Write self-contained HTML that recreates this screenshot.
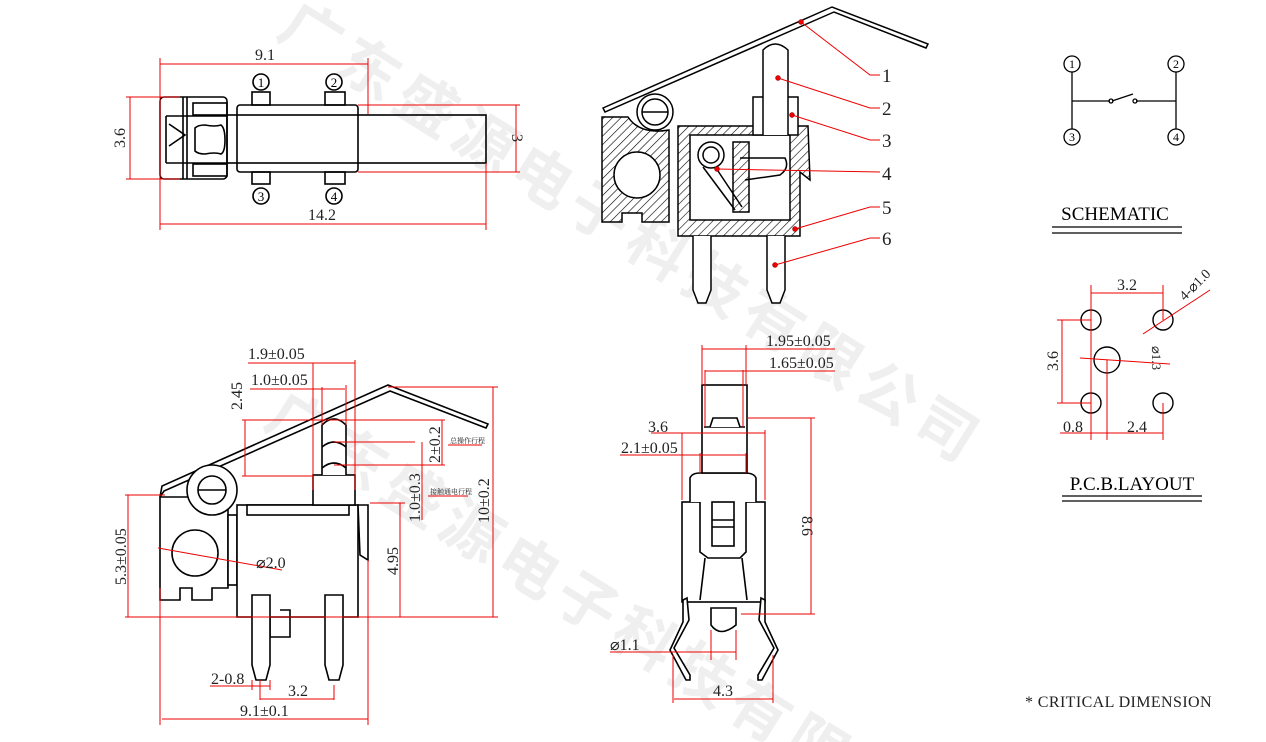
<!DOCTYPE html>
<html><head><meta charset="utf-8"><style>
html,body{margin:0;padding:0;background:#fff;overflow:hidden;width:1266px;height:742px;}
svg{display:block;font-family:"Liberation Serif","Noto Serif CJK SC",serif;}
</style></head><body>
<svg width="1266" height="742" viewBox="0 0 1266 742" xmlns="http://www.w3.org/2000/svg">
<defs>
<pattern id="h" width="6" height="6" patternUnits="userSpaceOnUse" patternTransform="rotate(45)">
<rect width="6" height="6" fill="#fff"/><line x1="0" y1="0" x2="0" y2="6" stroke="#000" stroke-width="1.2"/></pattern>
</defs>
<!-- watermark -->
<g fill="#efefef" font-family="Noto Sans CJK SC, sans-serif" font-weight="bold" font-size="60">
<text transform="translate(275,35) rotate(32)" letter-spacing="8">广东盛源电子科技有限公司</text>
<text transform="translate(262,425) rotate(32)" letter-spacing="8">广东盛源电子科技有限公司</text>
</g>
<g fill="none" stroke="#000" stroke-width="1.6">
<rect x="160" y="97" width="67" height="82" rx="4"/>
<line x1="183" y1="97" x2="183" y2="179"/><line x1="187" y1="97" x2="187" y2="179"/>
<path d="M166 116 L166 163 M166 116 L227 116 M166 163 L227 163"/>
<path d="M169 124 L185 135 L169 146"/>
<path d="M195 128 q3 -3 10 -3 q10 2 16 0 q4 3 4 15 q0 12 -4 14 q-6 -2 -16 0 q-7 0 -10 -3 z"/>
<rect x="193" y="103" width="34" height="12"/><rect x="193" y="164" width="34" height="12"/>
<rect x="237" y="105" width="121" height="67" rx="3"/>
<rect x="227" y="115" width="259" height="48"/>
<rect x="252" y="92" width="18" height="13"/><rect x="325" y="92" width="20" height="13"/>
<rect x="252" y="172" width="18" height="12"/><rect x="325" y="172" width="20" height="12"/>
<circle cx="261" cy="82" r="8"/><circle cx="334" cy="82" r="8"/>
<circle cx="261" cy="196" r="8"/><circle cx="334" cy="196" r="8"/>
</g>
<g font-size="13" text-anchor="middle">
<text x="261" y="87">1</text><text x="334" y="87">2</text><text x="261" y="201">3</text><text x="334" y="201">4</text>
</g>
<g stroke="#e00" stroke-width="1" fill="none">
<line x1="160" y1="58" x2="160" y2="230"/><line x1="368" y1="58" x2="368" y2="114"/>
<line x1="160" y1="64" x2="368" y2="64"/>
<line x1="126" y1="97" x2="180" y2="97"/><line x1="126" y1="179" x2="180" y2="179"/><line x1="130" y1="97" x2="130" y2="179"/>
<line x1="358" y1="105" x2="520" y2="105"/><line x1="358" y1="172" x2="520" y2="172"/><line x1="516" y1="105" x2="516" y2="172"/>
<line x1="486" y1="163" x2="486" y2="230"/><line x1="160" y1="224" x2="486" y2="224"/>
</g>
<g font-size="16" text-anchor="middle" fill="#222">
<text x="265" y="60">9.1</text><text x="322" y="220">14.2</text>
<text transform="translate(125,138) rotate(-90)">3.6</text>
<text transform="translate(512,138) rotate(90)">3</text>
</g>

<!-- TOP MIDDLE SECTION -->
<g stroke="#000" stroke-width="1.5">
<path d="M603 108 L832 7 L928 44 L926 48 L834 12 L605 112 Z" fill="#fff"/>
<path d="M602 117 L628 117 Q640 135 669 130 L669 222 L642 222 L642 213 L622 213 L622 222 L602 222 Z" fill="url(#h)"/>
<circle cx="637" cy="175" r="23" fill="#fff"/>
<circle cx="655" cy="112" r="18" fill="#fff"/><circle cx="655" cy="112" r="13" fill="#fff"/>
<line x1="642" y1="112" x2="668" y2="112"/>
<path d="M678 126 L808 126 L810 180 L800 172 L800 236 L678 236 Z" fill="url(#h)"/>
<rect x="690" y="135" width="100" height="85" fill="#fff"/>
<rect x="753" y="97" width="45" height="38" fill="#fff"/>
<path d="M763 135 L763 50 Q775 38 788 50 L788 135" fill="#fff"/>
<rect x="733" y="142" width="16" height="70" fill="url(#h)"/>
<circle cx="711" cy="155" r="13" fill="none"/><circle cx="711" cy="155" r="8" fill="none"/>
<path d="M703 167 L735 210 M716 168 L742 207 M740 158 L785 158 Q790 168 780 175 L745 180" fill="none"/>
<path d="M693 236 L693 290 L698 303 L706 303 L711 290 L711 236" fill="#fff"/>
<path d="M767 236 L767 290 L772 303 L780 303 L785 290 L785 236" fill="#fff"/>
</g>
<g stroke="#e00" stroke-width="1" fill="none">
<path d="M801 22 L870 75 L880 75"/><path d="M778 78 L870 108 L880 108"/><path d="M792 115 L870 140 L880 140"/>
<path d="M717 169 L880 172"/><path d="M795 229 L870 207 L880 207"/><path d="M775 265 L870 238 L880 238"/>
</g>
<g fill="#e00" stroke="#800" stroke-width=".5">
<circle cx="801" cy="22" r="2.5"/><circle cx="778" cy="78" r="2.5"/><circle cx="792" cy="115" r="2.5"/>
<circle cx="717" cy="169" r="2.5"/><circle cx="795" cy="229" r="2.5"/><circle cx="775" cy="265" r="2.5"/>
</g>
<g font-size="19" fill="#222"><text x="882" y="82">1</text><text x="882" y="115">2</text><text x="882" y="147">3</text><text x="882" y="180">4</text><text x="882" y="214">5</text><text x="882" y="245">6</text></g>

<!-- SCHEMATIC -->
<g stroke="#000" stroke-width="1.3" fill="none">
<circle cx="1072" cy="64" r="8"/><circle cx="1176" cy="64" r="8"/><circle cx="1072" cy="137" r="8"/><circle cx="1176" cy="137" r="8"/>
<path d="M1072 72 L1072 129 M1176 72 L1176 129 M1072 101 L1110 101 M1112 101 L1133 94 M1136 101 L1176 101"/>
<circle cx="1111" cy="101" r="2"/><circle cx="1135" cy="101" r="2"/>
<line x1="1052" y1="227" x2="1182" y2="227"/><line x1="1052" y1="233" x2="1182" y2="233"/>
<line x1="1062" y1="496" x2="1202" y2="496"/><line x1="1062" y1="501" x2="1202" y2="501"/>
</g>
<g font-size="12" text-anchor="middle"><text x="1072" y="68">1</text><text x="1176" y="68">2</text><text x="1072" y="141">3</text><text x="1176" y="141">4</text></g>
<text x="1115" y="220" font-size="19" text-anchor="middle">SCHEMATIC</text>
<text x="1132" y="490" font-size="19" text-anchor="middle">P.C.B.LAYOUT</text>

<!-- PCB -->
<g stroke="#000" stroke-width="1.4" fill="none">
<circle cx="1091" cy="320" r="10"/><circle cx="1163" cy="320" r="10"/><circle cx="1091" cy="403" r="10"/><circle cx="1163" cy="403" r="10"/>
<circle cx="1107" cy="360" r="13"/>
</g>
<g stroke="#e00" stroke-width="1" fill="none">
<line x1="1091" y1="285" x2="1091" y2="440"/><line x1="1163" y1="285" x2="1163" y2="320"/><line x1="1091" y1="293" x2="1163" y2="293"/>
<line x1="1057" y1="320" x2="1091" y2="320"/><line x1="1057" y1="403" x2="1091" y2="403"/><line x1="1062" y1="320" x2="1062" y2="403"/>
<line x1="1143" y1="334" x2="1210" y2="290"/><line x1="1080" y1="358" x2="1170" y2="364"/>
<line x1="1107" y1="360" x2="1107" y2="440"/><line x1="1163" y1="403" x2="1163" y2="440"/>
<line x1="1060" y1="433" x2="1163" y2="433"/>
</g>
<g font-size="16" fill="#222" text-anchor="middle">
<text x="1127" y="290">3.2</text><text transform="translate(1058,361) rotate(-90)">3.6</text>
<text x="1073" y="432">0.8</text><text x="1137" y="432">2.4</text>
<text transform="translate(1198,288) rotate(-45)" font-size="14">4-⌀1.0</text>
<text transform="translate(1152,358) rotate(90)" font-size="13">⌀1.3</text>
</g>

<!-- BOTTOM LEFT VIEW -->
<g stroke="#000" stroke-width="1.6" fill="#fff">
<path d="M160 497 L162 486 L388 385 L488 424 L486 428 L390 391 L164 491 Z"/>
<path d="M160 497 L228 497 L228 588 L212 588 L212 600 L192 600 L192 588 L180 588 L180 600 L160 600 Z"/>
<circle cx="212" cy="490" r="25"/><circle cx="212" cy="490" r="14"/>
<line x1="198" y1="490" x2="226" y2="490"/>
<circle cx="195" cy="553" r="23"/>
<rect x="228" y="515" width="9" height="70"/>
<rect x="237" y="505" width="121" height="112"/>
<rect x="247" y="505" width="102" height="10"/>
<path d="M358 505 L368 505 L368 560 L360 555 Z"/>
<rect x="313" y="475" width="42" height="30"/>
<path d="M322 475 L322 425 Q334 413 346 425 L346 475"/>
<path d="M322 447 Q334 437 346 447 M322 468 Q334 458 346 468" fill="none"/>
<path d="M270 617 L270 637 L290 637 L290 610 L280 610" fill="none"/>
<path d="M252 595 L252 665 L256 680 L266 680 L270 665 L270 595 Z"/>
<path d="M325 595 L325 665 L329 680 L339 680 L343 665 L343 595 Z"/>
</g>
<g stroke="#e00" stroke-width="1" fill="none">
<line x1="248" y1="363" x2="355" y2="363"/><line x1="313" y1="363" x2="313" y2="490"/><line x1="355" y1="360" x2="355" y2="490"/>
<line x1="250" y1="389" x2="345" y2="389"/><line x1="322" y1="387" x2="322" y2="425"/><line x1="346" y1="385" x2="346" y2="425"/>
<line x1="242" y1="420" x2="445" y2="420"/><line x1="242" y1="476" x2="313" y2="476"/><line x1="245" y1="420" x2="245" y2="476"/>
<line x1="334" y1="442" x2="415" y2="442"/><line x1="334" y1="465" x2="445" y2="465"/><line x1="442" y1="420" x2="442" y2="465"/>
<line x1="422" y1="442" x2="422" y2="520"/>
<line x1="388" y1="387" x2="498" y2="387"/><line x1="493" y1="387" x2="493" y2="617"/>
<line x1="370" y1="503" x2="405" y2="503"/><line x1="400" y1="503" x2="400" y2="617"/>
<line x1="125" y1="495" x2="165" y2="495"/><line x1="128" y1="495" x2="128" y2="617"/>
<line x1="125" y1="617" x2="498" y2="617"/>
<line x1="160" y1="588" x2="160" y2="725"/><line x1="368" y1="560" x2="368" y2="725"/><line x1="162" y1="719" x2="368" y2="719"/>
<line x1="260" y1="680" x2="260" y2="700"/><line x1="334" y1="685" x2="334" y2="700"/><line x1="260" y1="699" x2="334" y2="699"/>
<line x1="210" y1="686" x2="270" y2="686"/><line x1="252" y1="680" x2="252" y2="690"/><line x1="270" y1="680" x2="270" y2="690"/>
<line x1="158" y1="548" x2="282" y2="570"/>
<line x1="448" y1="445" x2="482" y2="445"/><line x1="428" y1="496" x2="468" y2="496"/>
</g>
<g font-size="16" fill="#222">
<text x="248" y="359">1.9±0.05</text><text x="251" y="385">1.0±0.05</text>
<text transform="translate(242,410) rotate(-90)">2.45</text>
<text transform="translate(440,463) rotate(-90)">2±0.2</text>
<text transform="translate(420,522) rotate(-90)">1.0±0.3</text>
<text transform="translate(489,523) rotate(-90)">10±0.2</text>
<text transform="translate(398,575) rotate(-90)">4.95</text>
<text transform="translate(126,585) rotate(-90)">5.3±0.05</text>
<text x="256" y="568">⌀2.0</text>
<text x="211" y="684">2-0.8</text><text x="288" y="696">3.2</text><text x="240" y="716">9.1±0.1</text>
<text x="450" y="443" font-size="7">总操作行程</text><text x="430" y="494" font-size="7">接触通电行程</text>
</g>

<!-- BOTTOM MIDDLE VIEW -->
<g stroke="#000" stroke-width="1.6" fill="#fff">
<rect x="682" y="502" width="83" height="100"/>
<path d="M690 502 L690 478 Q692 473 700 473 L745 473 Q754 473 756 478 L756 502"/>
<rect x="702" y="385" width="45" height="88"/>
<line x1="704" y1="427" x2="745" y2="427"/>
<path d="M710 427 L713 418 L737 418 L740 427"/>
<path d="M700 502 L700 552 L708 558 L740 558 L746 552 L746 502"/>
<rect x="712" y="502" width="22" height="44"/><line x1="712" y1="520" x2="734" y2="520"/><line x1="712" y1="527" x2="734" y2="527"/>
<path d="M705 558 L700 600 M742 558 L747 600" fill="none"/>
<path d="M711 608 L711 625 Q720 638 736 625 L736 608 Z"/>
<path d="M683 600 L687 598 L689 620 L674 648 L690 675 L690 680 L686 680 L670 650 L683 622 Z"/>
<path d="M765 600 L761 598 L759 620 L774 648 L758 675 L758 680 L762 680 L778 650 L765 622 Z"/>
</g>
<g stroke="#e00" stroke-width="1" fill="none">
<line x1="702" y1="345" x2="702" y2="385"/><line x1="746" y1="345" x2="746" y2="385"/><line x1="702" y1="349" x2="835" y2="349"/>
<line x1="705" y1="370" x2="705" y2="427"/><line x1="743" y1="370" x2="743" y2="427"/><line x1="705" y1="371" x2="835" y2="371"/>
<line x1="747" y1="418" x2="815" y2="418"/><line x1="741" y1="614" x2="815" y2="614"/><line x1="811" y1="418" x2="811" y2="614"/>
<line x1="682" y1="433" x2="682" y2="500"/><line x1="765" y1="430" x2="765" y2="500"/><line x1="651" y1="433" x2="765" y2="433"/>
<line x1="700" y1="453" x2="700" y2="473"/><line x1="746" y1="453" x2="746" y2="473"/><line x1="620" y1="455" x2="746" y2="455"/>
<line x1="610" y1="652" x2="736" y2="652"/><line x1="711" y1="630" x2="711" y2="660"/><line x1="736" y1="630" x2="736" y2="660"/>
<line x1="673" y1="655" x2="673" y2="703"/><line x1="773" y1="655" x2="773" y2="703"/><line x1="674" y1="699" x2="773" y2="699"/>
</g>
<g font-size="16" fill="#222">
<text x="766" y="346">1.95±0.05</text><text x="769" y="368">1.65±0.05</text>
<text x="648" y="432">3.6</text><text x="621" y="453">2.1±0.05</text>
<text x="610" y="650">⌀1.1</text><text x="713" y="696">4.3</text>
<text transform="translate(802,516) rotate(90)">8.6</text>
<text x="1025" y="707" font-size="16" letter-spacing="0.4">* CRITICAL  DIMENSION</text>
</g>
</svg>
</body></html>
